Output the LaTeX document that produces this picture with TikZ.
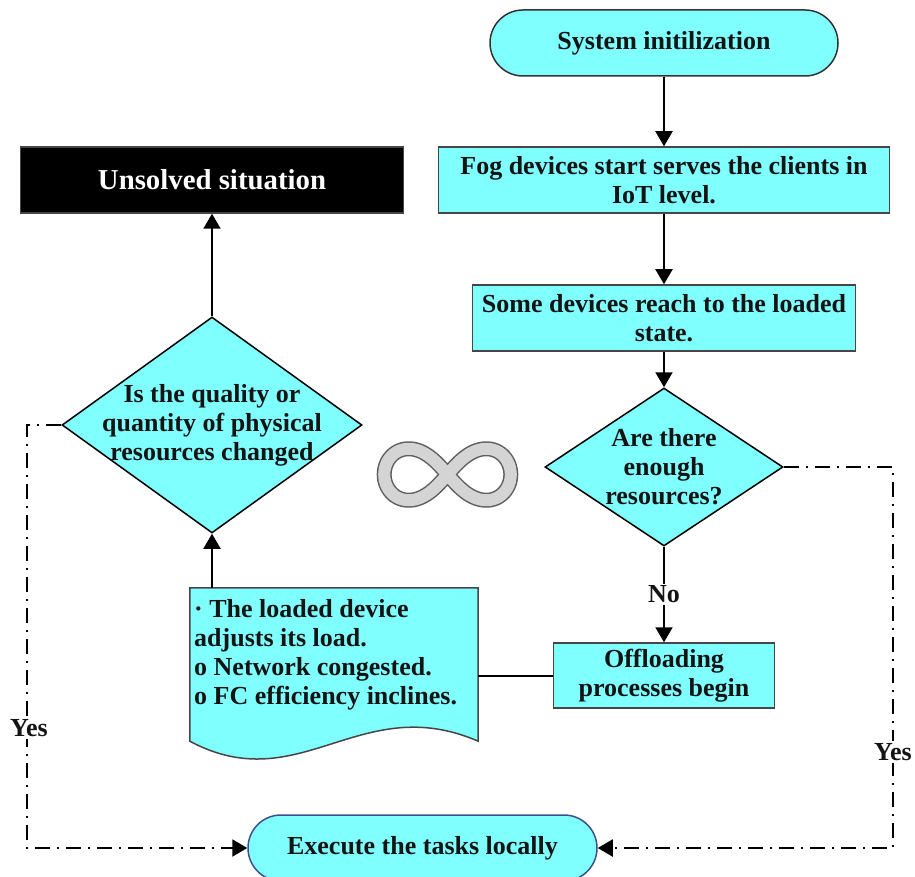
\documentclass[tikz,border=0pt]{standalone}
\usepackage{fontspec}
\setmainfont{Liberation Serif}
\usetikzlibrary{shapes.geometric,arrows.meta,calc}

\definecolor{cyanfill}{RGB}{128,255,255}
\definecolor{boxline}{RGB}{70,70,70}
\definecolor{termline}{RGB}{60,80,140}
\definecolor{infband}{RGB}{212,212,212}
\definecolor{infedge}{RGB}{95,95,95}

\tikzset{
  txt/.style={font=\bfseries\fontsize{26}{29}\selectfont, text=black!92, align=center, inner sep=0pt},
  proc/.style={txt, draw=boxline, fill=cyanfill, line width=1.5pt},
  term/.style={proc, rounded corners=33pt},
  decision/.style={diamond, draw=black, fill=cyanfill, line width=1.5pt, inner sep=0pt},
  flow/.style={line width=2pt, -{Triangle[length=15pt,width=17pt]}},
  plainline/.style={line width=2pt},
  dashdot/.style={line width=2.2pt, dash pattern=on 15pt off 7pt on 2pt off 7pt,
                  -{Triangle[length=15pt,width=17pt]}},
  tag/.style={txt, fill=white, inner sep=2pt},
}

\begin{document}
\begin{tikzpicture}[x=1pt,y=-1pt]
\useasboundingbox (0,0) rectangle (915,877);

% main column
\node[term, draw=black!80, minimum width=348pt, minimum height=66pt] (init) at (664,43) {System initilization};
\node[proc, minimum width=451pt, minimum height=66pt] (fog) at (664,180) {Fog devices start serves the clients in\\IoT level.};
\node[proc, minimum width=383pt, minimum height=66pt] (loaded) at (664,318) {Some devices reach to the loaded\\state.};
\node[decision, minimum width=238pt, minimum height=158pt] (enough) at (664,467) {};
\node[txt] (enoughtxt) at (enough.center) {Are there\\enough\\resources?};
\node[proc, minimum width=221pt, minimum height=65pt] (offload) at (664,675.5) {Offloading\\processes begin};
\node[term, draw=termline, minimum width=349pt, minimum height=66pt] (exec) at (422.5,848) {Execute the tasks locally};

% left column
\node[txt, draw=boxline, fill=black, text=white, line width=1.5pt,
      minimum width=383pt, minimum height=66pt,
      font=\bfseries\fontsize{28.8}{32}\selectfont] (unsolved) at (212,180) {Unsolved situation};
\node[decision, minimum width=300pt, minimum height=216pt] (changed) at (212,425) {};
\node[txt] (changedtxt) at (changed.center) {Is the quality or\\quantity of physical\\resources changed};

% document shape with wavy bottom
\node[minimum width=288pt, minimum height=153pt, inner sep=0pt] (doc) at (334,664.5) {};
\draw[draw=boxline, fill=cyanfill, line width=1.5pt]
  (doc.south west) -- (doc.north west) -- (doc.north east) -- (doc.south east)
  .. controls (360,690) and (300,800) .. (doc.south west) -- cycle;
\node[txt, align=left, anchor=north west] (doctxt) at (194,599)
  {· The loaded device\\adjusts its load.\\o Network congested.\\o FC efficiency inclines.};

% infinity sign
\draw[infedge, line width=15pt, line join=round]
  plot[domain=0:358, samples=180, smooth cycle]
  ({447.5 + 63.3*cos(\x)/(1+sin(\x)*sin(\x))}, {474.5 + 72.8*sin(\x)*cos(\x)/(1+sin(\x)*sin(\x))});
\draw[infband, line width=12pt, line join=round]
  plot[domain=0:358, samples=180, smooth cycle]
  ({447.5 + 63.3*cos(\x)/(1+sin(\x)*sin(\x))}, {474.5 + 72.8*sin(\x)*cos(\x)/(1+sin(\x)*sin(\x))});

% connectors
\draw[flow] (init) -- (fog);
\draw[flow] (fog) -- (loaded);
\draw[flow] (loaded) -- (enough.north);
\draw[flow] (enough.south) -- node[tag] (no) {No} (offload);
\draw[plainline] (offload.west) -- (offload.west -| doc.east);
\draw[flow] (changed.south |- doc.north) -- (changed.south);
\draw[flow] (changed.north) -- (unsolved.south);

\draw[dashdot] (changed.west) -- ++(-34,0) |- (exec.west);
\draw[dashdot] (enough.east) -- ++(109,0) |- (exec.east);
\node[tag] (yesleft) at (29,728) {Yes};
\node[tag] (yesright) at (893,752) {Yes};
\end{tikzpicture}
\end{document}
